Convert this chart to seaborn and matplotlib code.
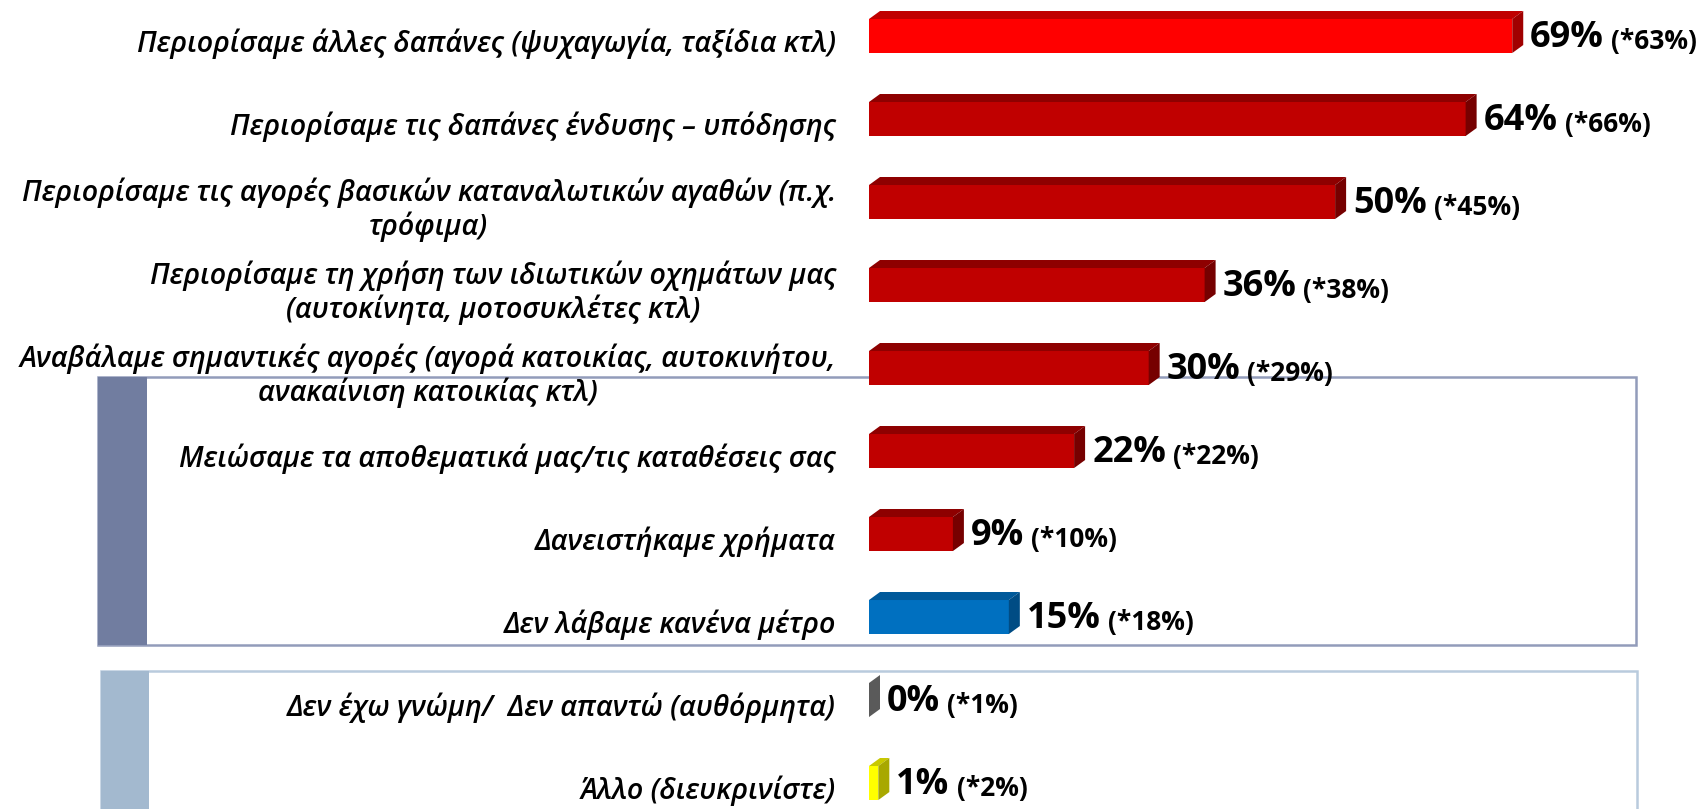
import matplotlib
matplotlib.use('Agg')
import matplotlib.pyplot as plt
import matplotlib.transforms as mtransforms
from matplotlib.patches import Polygon, Rectangle
import seaborn as sns

categories = [
    'Περιορίσαμε άλλες δαπάνες (ψυχαγωγία, ταξίδια κτλ)',
    'Περιορίσαμε τις δαπάνες ένδυσης – υπόδησης',
    'Περιορίσαμε τις αγορές βασικών καταναλωτικών αγαθών (π.χ.\nτρόφιμα)',
    'Περιορίσαμε τη χρήση των ιδιωτικών οχημάτων μας\n(αυτοκίνητα, μοτοσυκλέτες κτλ)',
    'Αναβάλαμε σημαντικές αγορές (αγορά κατοικίας, αυτοκινήτου,\nανακαίνιση κατοικίας κτλ)',
    'Μειώσαμε τα αποθεματικά μας/τις καταθέσεις σας',
    'Δανειστήκαμε χρήματα',
    'Δεν λάβαμε κανένα μέτρο',
    'Δεν έχω γνώμη/  Δεν απαντώ (αυθόρμητα)',
    'Άλλο (διευκρινίστε)',
]
values = [69, 64, 50, 36, 30, 22, 9, 15, 0, 1]
previous = [63, 66, 45, 38, 29, 22, 10, 18, 1, 2]

front_colors = ['#FF0000'] + ['#C00000'] * 6 + ['#0070C0', '#606060', '#FFFF00']
top_colors = ['#C00000'] + ['#8E0000'] * 6 + ['#00599A', '#505050', '#C8C800']
side_colors = ['#A00000'] + ['#760000'] * 6 + ['#004C84', '#5A5A5A', '#A8A800']

W, H = 1708, 809
DX, DY = 11, 8  # depth of the 3d effect in pixels

plt.rcParams['font.family'] = ['Open Sans', 'DejaVu Sans']
fig = plt.figure(figsize=(W / 100, H / 100), dpi=100)

# background frames (pixel coords from top-left)
def frame(x0, y0, x1, y1, strip_w, strip_c, edge_c):
    fig.patches.append(Rectangle((x0 / W, 1 - y1 / H), (x1 - x0) / W, (y1 - y0) / H,
                                 transform=fig.transFigure, facecolor='white',
                                 edgecolor=edge_c, lw=1.8, zorder=-2))
    fig.patches.append(Rectangle((x0 / W, 1 - y1 / H), strip_w / W, (y1 - y0) / H,
                                 transform=fig.transFigure, facecolor=strip_c,
                                 edgecolor='none', zorder=-1))

frame(98, 377, 1636, 645, 49, '#717DA0', '#929CBA')
frame(101, 671, 1637, 840, 48, '#A3B9CF', '#B9CBDD')

ax = fig.add_axes([869 / W, 0, (W - 869) / W, 1])
ax.patch.set_visible(False)

sns.barplot(x=values, y=categories, hue=categories, palette=front_colors,
            saturation=1, orient='h', width=0.41, linewidth=0, legend=False, ax=ax)

px_x = (W - 869) / 90.0
ax.set_xlim(0, 90.0)
ax.set_ylim(9.313, -0.434)
ax.axis('off')

dx = DX / px_x
dy = DY / 83.0

for i, bar in enumerate(ax.patches):
    x0 = bar.get_x()
    y0 = bar.get_y()
    w = bar.get_width()
    h = bar.get_height()
    top = [(x0, y0), (x0 + dx, y0 - dy), (x0 + w + dx, y0 - dy), (x0 + w, y0)]
    side = [(x0 + w, y0), (x0 + w + dx, y0 - dy), (x0 + w + dx, y0 + h - dy), (x0 + w, y0 + h)]
    ax.add_patch(Polygon(top, closed=True, facecolor=top_colors[i], edgecolor='none', zorder=3))
    ax.add_patch(Polygon(side, closed=True, facecolor=side_colors[i], edgecolor='none', zorder=3))

    t1 = ax.annotate(f'{values[i]}%', xy=(w, y0 + h / 2), xytext=(DX + 7, -2),
                     textcoords='offset pixels', ha='left', va='center',
                     fontsize=26, fontweight='bold', color='black')
    ax.annotate(f'(*{previous[i]}%)', xy=(1, 0), xycoords=t1, xytext=(7, 1),
                textcoords='offset pixels', ha='left', va='bottom',
                fontsize=19, fontweight='bold', color='black')

label_tr = mtransforms.offset_copy(ax.get_yaxis_transform(), fig=fig, x=-33, y=-8, units='dots')
for i, cat in enumerate(categories):
    ax.text(0, i, cat, transform=label_tr, ha='right', va='center',
            multialignment='center', fontsize=20.6, fontstyle='italic',
            fontweight='semibold', linespacing=1.15, color='black')

fig.savefig('out.png', dpi=100)
